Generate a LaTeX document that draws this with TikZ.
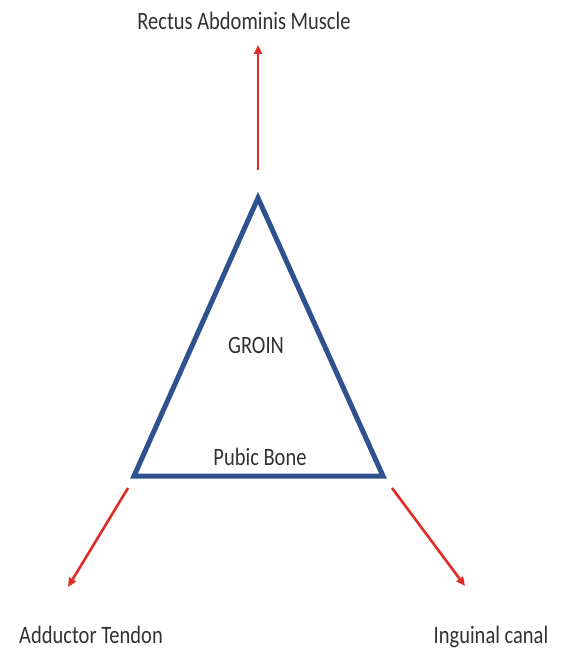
\documentclass[tikz,border=0pt]{standalone}
\usepackage{fontspec}
\setmainfont{Carlito}
\usetikzlibrary{arrows.meta}
\definecolor{groinblue}{RGB}{47,82,143}
\definecolor{pullred}{RGB}{222,45,38}
\definecolor{labelgray}{RGB}{50,50,50}
\newcommand{\narrowtext}[1]{\scalebox{0.82}[1]{#1}}

\begin{document}
\begin{tikzpicture}[x=1pt,y=-1pt,
    lbl/.style={text=labelgray,font=\fontsize{25}{30}\selectfont,inner sep=0pt,anchor=base},
    pull/.style={draw=pullred,line width=2.6pt,-{Triangle[length=9pt,width=8pt]}}]
  \useasboundingbox (0,0) rectangle (562,652);
  % triangle
  \coordinate (apex) at (258,198);
  \coordinate (left) at (134,476);
  \coordinate (right) at (383,476);
  \draw[groinblue,line width=5pt,line join=miter] (apex) -- (left) -- (right) -- cycle;
  \node[lbl] (groin) at (256,353) {\narrowtext{GROIN}};
  \node[lbl] (pubic) at (260,465) {\narrowtext{Pubic Bone}};
  % labels outside
  \node[lbl] (rectus) at (244,30) {\narrowtext{Rectus Abdominis Muscle}};
  \node[lbl] (adductor) at (91,643) {\narrowtext{Adductor Tendon}};
  \node[lbl] (inguinal) at (491,643) {\narrowtext{Inguinal canal}};
  % arrows
  \coordinate (t0) at (258,170);
  \coordinate (t1) at (258,45);
  \coordinate (l0) at (128,488);
  \coordinate (l1) at (68,587);
  \coordinate (r0) at (392,488);
  \coordinate (r1) at (465,586);
  \draw[pull] (t0) -- (t1);
  \draw[pull] (l0) -- (l1);
  \draw[pull] (r0) -- (r1);
\end{tikzpicture}
\end{document}
